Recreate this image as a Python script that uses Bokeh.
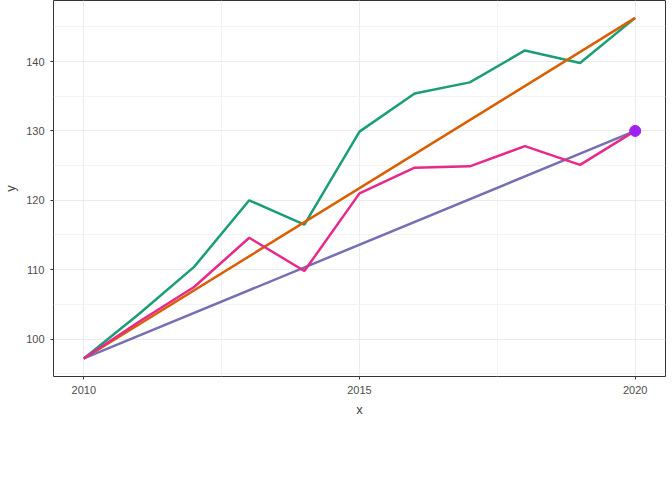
from bokeh.plotting import figure
from bokeh.models import Legend, LegendItem, FixedTicker
from bokeh.embed import file_html
from bokeh.resources import INLINE

years = [2010, 2011, 2012, 2013, 2014, 2015, 2016, 2017, 2018, 2019, 2020]
ofm = [97.2, 103.6, 110.4, 120.0, 116.5, 129.9, 135.4, 137.0, 141.6, 139.8, 146.3]
adj_target = [97.2, 102.5, 107.5, 114.6, 109.8, 121.0, 124.7, 124.9, 127.8, 125.1, 130.0]
line_years = [2010, 2020]
ofm_line = [97.2, 146.3]
target_line = [97.2, 130.0]
target_point = (2020, 130.0)

p = figure(frame_width=612, frame_height=376, output_backend="svg", toolbar_location=None,
           x_range=(2009.45, 2020.55), y_range=(94.6, 148.8),
           x_axis_label="x", y_axis_label="y", min_border_left=10, min_border_right=4,
           min_border_top=0, min_border_bottom=0)
p.outline_line_color = "#333333"
p.xaxis.ticker = FixedTicker(ticks=[2010, 2015, 2020], minor_ticks=[2012.5, 2017.5])
p.yaxis.ticker = FixedTicker(ticks=[100, 110, 120, 130, 140], minor_ticks=[95, 105, 115, 125, 135, 145])
for ax in (p.xaxis, p.yaxis):
    ax.axis_line_color = None
    ax.major_tick_line_color = "#333333"
    ax.minor_tick_line_color = None
    ax.major_label_text_color = "#4d4d4d"
    ax.major_label_text_font_size = "11px"
    ax.axis_label_text_font_size = "13px"
    ax.axis_label_text_font_style = "normal"
    ax.major_tick_out = 3
    ax.major_tick_in = 0
for g in (p.xgrid, p.ygrid):
    g.grid_line_color = "#ebebeb"
    g.minor_grid_line_color = "#f3f3f3"

r1 = p.line(years, ofm, line_color="#1B9E77", line_width=2.5)
r2 = p.line(line_years, ofm_line, line_color="#D95F02", line_width=2.5)
r3 = p.line(line_years, target_line, line_color="#7570B3", line_width=2.5)
r4 = p.line(years, adj_target, line_color="#E7298A", line_width=2.5)
p.scatter([target_point[0]], [target_point[1]], size=11, color="#A020F0")

legend = Legend(items=[LegendItem(label="OFM", renderers=[r1]),
                       LegendItem(label="OFM line", renderers=[r2]),
                       LegendItem(label="Target line", renderers=[r3]),
                       LegendItem(label="Adj. Target", renderers=[r4])],
                orientation="horizontal", location="center",
                label_text_font_size="11px", border_line_color=None,
                glyph_width=22, spacing=14, margin=14)
p.add_layout(legend, "below")

open("out.html", "w").write(file_html(p, INLINE))
